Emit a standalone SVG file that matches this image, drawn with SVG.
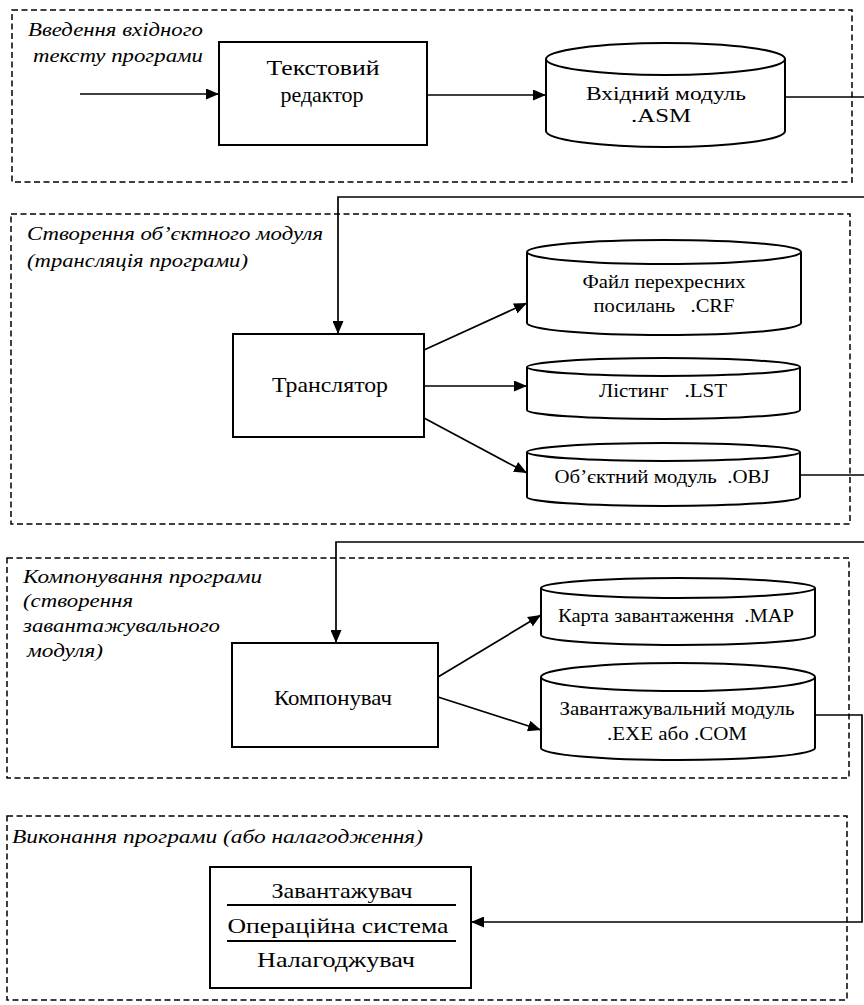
<svg xmlns="http://www.w3.org/2000/svg" width="864" height="1005" viewBox="0 0 864 1005">
<defs>
<marker id="ah" markerUnits="userSpaceOnUse" markerWidth="13" markerHeight="11" refX="13" refY="5.5" orient="auto">
<path d="M0,0 L13,5.5 L0,11 Z" fill="#000"/>
</marker>
<style>
.sec{fill:none;stroke:#000;stroke-width:1.5;stroke-dasharray:6 3.5}
.box{fill:#fff;stroke:#000;stroke-width:2}
.cyl{fill:#fff;stroke:#000;stroke-width:2}
.con{fill:none;stroke:#000;stroke-width:1.7}
.arr{marker-end:url(#ah)}
text{font-family:'Liberation Serif','Times New Roman','DejaVu Serif',serif;fill:#000}
.ttl{font-style:italic;font-size:18px}
.bt{font-size:21px;text-anchor:middle}
.ct{font-size:19px;text-anchor:middle}
.sep{stroke:#000;stroke-width:2.2}
</style>
</defs>
<rect width="864" height="1005" fill="#fff"/>

<g id="sections">
<rect id="sec1" class="sec" x="12" y="10" width="840" height="172"/>
<rect id="sec2" class="sec" x="11" y="214" width="839" height="310"/>
<rect id="sec3" class="sec" x="7" y="558" width="842" height="220"/>
<rect id="sec4" class="sec" x="7" y="816" width="840" height="184"/>
</g>

<g id="titles">
<text class="ttl" x="28" y="36" textLength="175" lengthAdjust="spacingAndGlyphs">Введення вхідного</text>
<text class="ttl" x="33" y="62" textLength="170" lengthAdjust="spacingAndGlyphs">тексту програми</text>
<text class="ttl" x="27" y="240" textLength="296" lengthAdjust="spacingAndGlyphs">Створення об’єктного модуля</text>
<text class="ttl" x="27" y="267" textLength="221" lengthAdjust="spacingAndGlyphs">(трансляція програми)</text>
<text class="ttl" x="23" y="583" textLength="239" lengthAdjust="spacingAndGlyphs">Компонування програми</text>
<text class="ttl" x="23" y="607" textLength="110" lengthAdjust="spacingAndGlyphs">(створення</text>
<text class="ttl" x="23" y="632" textLength="197" lengthAdjust="spacingAndGlyphs">завантажувального</text>
<text class="ttl" x="27" y="657" textLength="76" lengthAdjust="spacingAndGlyphs">модуля)</text>
<text class="ttl" x="12" y="843" textLength="411" lengthAdjust="spacingAndGlyphs">Виконання програми (або налагодження)</text>
</g>

<g id="connectors">
<path class="con arr" d="M80,94 H219"/>
<path class="con arr" d="M427,95 H546"/>
<path class="con" d="M785,97 H864"/>
<path class="con arr" d="M864,197 H338 V334"/>
<path class="con arr" d="M424,350 L527,303"/>
<path class="con arr" d="M424,386 H527"/>
<path class="con arr" d="M424,418 L527,473"/>
<path class="con" d="M800,475 H864"/>
<path class="con arr" d="M864,542 H336 V643"/>
<path class="con arr" d="M438,677 L541,615"/>
<path class="con arr" d="M438,697 L541,730"/>
<path class="con arr" d="M815,715 H862 V922 H471"/>
</g>

<g id="editor">
<rect class="box" x="219" y="42" width="208" height="103"/>
<text class="bt" x="323" y="75" textLength="113" lengthAdjust="spacingAndGlyphs">Текстовий</text>
<text class="bt" x="322" y="102" textLength="83" lengthAdjust="spacingAndGlyphs">редактор</text>
</g>

<g id="asm">
<path class="cyl" d="M546,59 A119.5,16 0 0 1 785,59 L785,131 A119.5,16 0 0 1 546,131 Z M546,59 A119.5,16 0 0 0 785,59"/>
<text class="ct" x="666" y="100" textLength="160" lengthAdjust="spacingAndGlyphs">Вхідний модуль</text>
<text class="ct" x="661" y="122" textLength="60" lengthAdjust="spacingAndGlyphs">.ASM</text>
</g>

<g id="translator">
<rect class="box" x="233" y="334" width="191" height="103"/>
<text class="bt" x="330" y="392" textLength="116" lengthAdjust="spacingAndGlyphs">Транслятор</text>
</g>

<g id="crf">
<path class="cyl" d="M527,252 A137,12 0 0 1 801,252 L801,323 A137,12 0 0 1 527,323 Z M527,252 A137,12 0 0 0 801,252"/>
<text class="ct" x="664" y="288" textLength="163" lengthAdjust="spacingAndGlyphs">Файл перехресних</text>
<text class="ct" x="664" y="312" textLength="141" lengthAdjust="spacingAndGlyphs" xml:space="preserve">посилань   .CRF</text>
</g>

<g id="lst">
<path class="cyl" d="M527,367 A136.5,9 0 0 1 800,367 L800,410 A136.5,9 0 0 1 527,410 Z M527,367 A136.5,9 0 0 0 800,367"/>
<text class="ct" x="663" y="397" textLength="128" lengthAdjust="spacingAndGlyphs" xml:space="preserve">Лістинг   .LST</text>
</g>

<g id="obj">
<path class="cyl" d="M527,452 A136.5,9 0 0 1 800,452 L800,497 A136.5,9 0 0 1 527,497 Z M527,452 A136.5,9 0 0 0 800,452"/>
<text class="ct" x="662" y="483" textLength="215" lengthAdjust="spacingAndGlyphs" xml:space="preserve">Об’єктний модуль  .OBJ</text>
</g>

<g id="linker">
<rect class="box" x="232" y="643" width="206" height="104"/>
<text class="bt" x="333" y="705" textLength="118" lengthAdjust="spacingAndGlyphs">Компонувач</text>
</g>

<g id="map">
<path class="cyl" d="M541,588 A137,10 0 0 1 815,588 L815,635 A137,10 0 0 1 541,635 Z M541,588 A137,10 0 0 0 815,588"/>
<text class="ct" x="676" y="622" textLength="236" lengthAdjust="spacingAndGlyphs" xml:space="preserve">Карта завантаження  .MAP</text>
</g>

<g id="exe">
<path class="cyl" d="M541,677 A137,14 0 0 1 815,677 L815,748 A137,12 0 0 1 541,748 Z M541,677 A137,14 0 0 0 815,677"/>
<text class="ct" x="677" y="715" textLength="235" lengthAdjust="spacingAndGlyphs">Завантажувальний модуль</text>
<text class="ct" x="677" y="740" textLength="140" lengthAdjust="spacingAndGlyphs">.EXE або .COM</text>
</g>

<g id="runtime">
<rect class="box" x="210" y="867" width="261" height="121"/>
<line class="sep" x1="227" y1="905" x2="456" y2="905"/>
<line class="sep" x1="227" y1="941" x2="456" y2="941"/>
<text class="bt" x="342" y="898" textLength="141" lengthAdjust="spacingAndGlyphs">Завантажувач</text>
<text class="bt" x="338" y="933" textLength="221" lengthAdjust="spacingAndGlyphs">Операційна система</text>
<text class="bt" x="336" y="967" textLength="158" lengthAdjust="spacingAndGlyphs">Налагоджувач</text>
</g>
</svg>
